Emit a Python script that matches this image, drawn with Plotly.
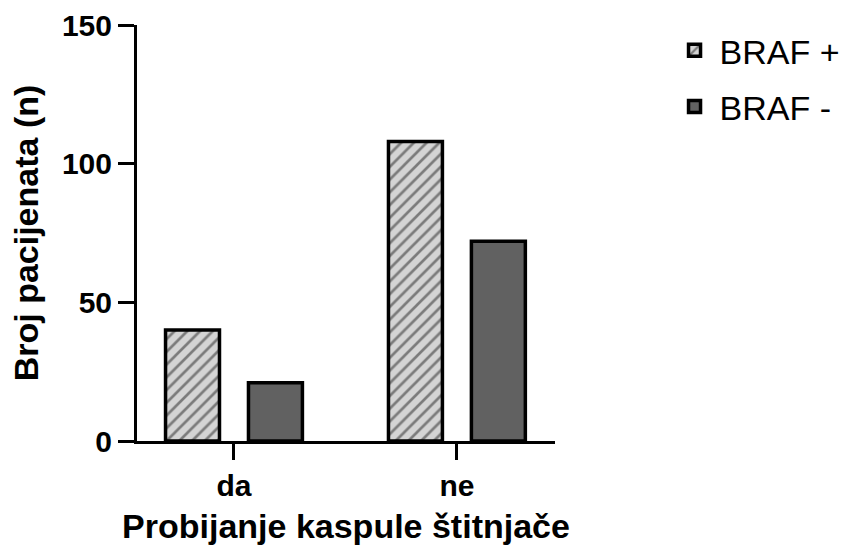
import plotly.graph_objects as go

categories = ["da", "ne"]
braf_pos = [40, 108]
braf_neg = [21, 72]
y_ticks = [0, 50, 100, 150]

FONT = "Liberation Sans, Arial, sans-serif"

fig = go.Figure()
fig.add_trace(go.Bar(
    name="BRAF +", x=categories, y=braf_pos,
    width=0.242, offset=-0.307,
    marker=dict(color="#d4d4d4",
                line=dict(color="black", width=3.5),
                pattern=dict(shape="/", bgcolor="#d4d4d4", fgcolor="#222222",
                             size=9, solidity=0.3)),
    legendgroup="a",
))
fig.add_trace(go.Bar(
    name="BRAF -", x=categories, y=braf_neg,
    width=0.242, offset=0.065,
    marker=dict(color="#616161", line=dict(color="black", width=3.5)),
    legendgroup="b",
))

fig.update_layout(
    width=844, height=550,
    margin=dict(l=137, r=289, t=25, b=109, autoexpand=False),
    paper_bgcolor="white", plot_bgcolor="white",
    barmode="overlay",
    showlegend=True,
    legend=dict(x=1.274, y=1.008, xanchor="left", yanchor="top",
                font=dict(family=FONT, size=34, color="black"),
                itemwidth=40, traceorder="grouped", tracegroupgap=9),
    xaxis=dict(
        range=[-0.435, 1.44], automargin=False,
        showline=True, linecolor="black", linewidth=3,
        ticks="outside", ticklen=16, tickwidth=3, tickcolor="black",
        tickfont=dict(family=FONT, size=30, color="black", weight="bold"),
        title=dict(text="Probijanje kaspule štitnjače", standoff=14,
                   font=dict(family=FONT, size=34, color="black", weight="bold")),
        showgrid=False, zeroline=False,
    ),
    yaxis=dict(
        range=[0, 150], tickvals=y_ticks, automargin=False,
        showline=True, linecolor="black", linewidth=3,
        ticks="outside", ticklen=16, tickwidth=3, tickcolor="black",
        tickfont=dict(family=FONT, size=30, color="black", weight="bold"),
        title=dict(text="Broj pacijenata (n)", standoff=14,
                   font=dict(family=FONT, size=34, color="black", weight="bold")),
        showgrid=False, zeroline=False,
    ),
)

fig.write_html("out.html",
               config={"displayModeBar": False},
               post_script="document.body.style.margin='0';document.body.style.overflow='hidden';")
